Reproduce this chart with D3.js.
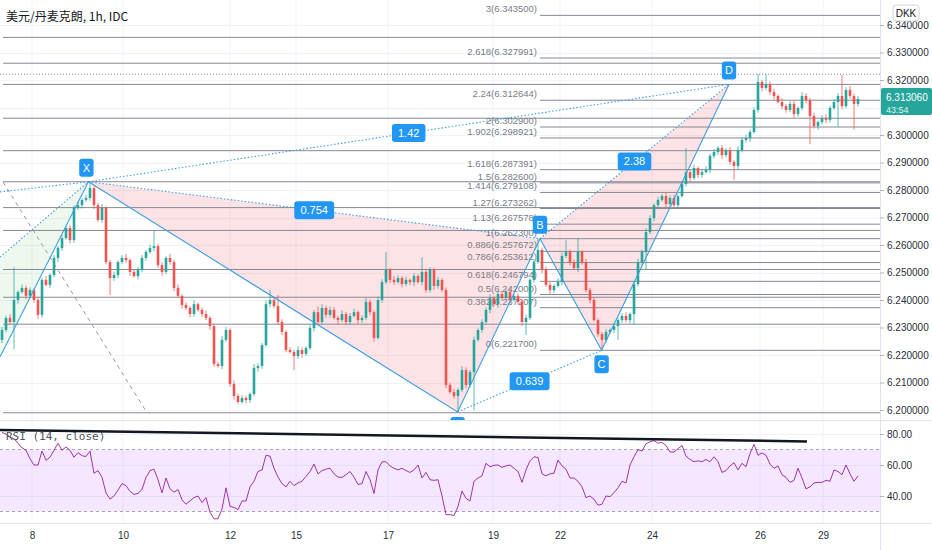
<!DOCTYPE html>
<html><head><meta charset="utf-8">
<script src="https://cdn.jsdelivr.net/npm/d3@7"></script>
<style>
body{margin:0;background:#fff;}
svg{display:block;font-family:"Liberation Sans",Arial,sans-serif;}
</style>
</head><body>
<svg id="chart" width="932" height="550"></svg>
<script>
// ---------------- DATA ----------------
const title = "美元/丹麦克朗, 1h, IDC";
const firstOpen = 6.2255;
const closes = [
6.2291,6.2335,6.2320,6.2400,6.2429,6.2444,6.2415,6.2436,6.2400,6.2346,
6.2473,6.2455,6.2491,6.2553,6.2589,6.2625,6.2662,6.2618,6.2735,6.2745,
6.2764,6.2771,6.2807,6.2745,6.2691,6.2735,6.2538,6.2480,6.2491,6.2538,
6.2553,6.2545,6.2502,6.2487,6.2509,6.2553,6.2575,6.2589,6.2596,6.2527,
6.2502,6.2553,6.2538,6.2444,6.2415,6.2382,6.2371,6.2349,6.2385,6.2364,
6.2349,6.2335,6.2305,6.2167,6.2160,6.2255,6.2291,6.2095,6.2051,6.2029,
6.2044,6.2036,6.2058,6.2153,6.2160,6.2236,6.2385,6.2400,6.2378,6.2320,
6.2284,6.2218,6.2211,6.2196,6.2218,6.2204,6.2225,6.2298,6.2356,6.2320,
6.2371,6.2346,6.2364,6.2335,6.2327,6.2349,6.2320,6.2342,6.2356,6.2327,
6.2335,6.2393,6.2356,6.2262,6.2400,6.2465,6.2509,6.2473,6.2465,6.2480,
6.2458,6.2473,6.2465,6.2487,6.2465,6.2502,6.2436,6.2509,6.2451,6.2473,
6.2436,6.2091,6.2065,6.2051,6.2073,6.2145,6.2091,6.2138,6.2255,6.2291,
6.2320,6.2364,6.2407,6.2385,6.2422,6.2407,6.2429,6.2400,6.2415,6.2393,
6.2320,6.2335,6.2473,6.2538,6.2582,6.2509,6.2455,6.2436,6.2451,6.2465,
6.2560,6.2575,6.2538,6.2516,6.2575,6.2538,6.2436,6.2400,6.2327,6.2276,
6.2255,6.2284,6.2291,6.2305,6.2327,6.2342,6.2327,6.2349,6.2458,6.2538,
6.2575,6.2647,6.2698,6.2745,6.2764,6.2778,6.2749,6.2771,6.2745,6.2778,
6.2822,6.2865,6.2844,6.2880,6.2855,6.2865,6.2873,6.2924,6.2938,6.2953,
6.2927,6.2945,6.2902,6.2887,6.2945,6.2982,6.2989,6.3011,6.3091,6.3193,
6.3171,6.3185,6.3156,6.3142,6.3120,6.3105,6.3091,6.3113,6.3076,6.3098,
6.3142,6.3127,6.3069,6.3033,6.3047,6.3062,6.3055,6.3098,6.3120,6.3142,
6.3105,6.3164,6.3142,6.3113,6.31306];
// wick lengths beyond the body, in pips (0.0001)
const wickUp = [
10,8,14,120,6,12,8,10,6,12,
8,14,6,10,8,12,6,10,8,14,
6,12,23,10,8,14,6,8,12,6,
10,14,6,8,12,10,6,12,59,8,
10,6,14,8,12,6,10,8,14,6,
8,12,6,10,8,14,10,6,12,8,
10,8,6,14,10,8,14,36,12,40,
10,6,12,8,14,10,6,12,8,20,
14,8,12,10,6,14,8,10,12,6,
10,14,8,6,12,10,66,8,14,10,
8,12,6,10,8,54,10,10,8,12,
6,10,8,12,6,14,10,8,12,6,
10,8,14,6,12,10,8,14,6,10,
8,12,6,10,41,8,12,10,6,14,
12,43,8,10,50,6,12,8,10,6,
8,10,6,12,8,10,14,6,10,12,
8,14,10,6,12,8,14,10,12,8,
10,88,8,12,6,10,14,8,12,6,
10,8,12,6,14,10,12,8,10,29,
8,37,10,12,6,14,8,10,12,6,
14,10,8,12,6,10,14,8,12,10,
76,10,14,8,12];
const wickDn = [
12,8,10,100,14,6,12,8,10,14,
10,6,12,8,14,10,6,12,10,8,
12,8,10,14,6,10,8,62,10,12,
8,10,14,6,12,8,10,6,12,10,
14,8,10,12,6,14,8,12,10,6,
12,8,14,10,6,12,8,10,14,8,
6,12,10,8,14,10,6,12,8,10,
12,8,6,51,10,14,8,6,12,10,
8,12,10,6,14,8,12,10,6,14,
10,8,12,14,6,10,8,12,10,6,
12,8,10,14,6,12,10,8,14,10,
8,12,6,10,58,8,12,10,138,6,
10,8,12,6,14,10,8,12,6,10,
14,47,8,10,6,12,8,14,10,6,
10,8,12,6,14,10,8,12,6,10,
38,10,8,12,50,10,8,12,40,8,
10,66,8,12,10,6,14,10,8,12,
6,10,14,8,12,10,6,12,8,10,
14,8,10,51,12,8,10,14,6,10,
12,8,10,14,6,12,10,8,14,10,
8,12,102,10,14,8,12,10,6,90,
12,8,10,93,10];
const rsi = [
81,80,78,77,74,71,69.5,64,60,60,
69,63,65,69.5,74,69.5,71.6,69.5,65,68,
66,65.5,69,54.7,56.4,52,42,38,40,43.8,
48,46.7,43,41,41.7,44.2,52,56.4,57.3,50.5,
42,51.6,44.6,42.5,44.2,37.5,34.7,36.8,39,40,
35.8,39,29.5,25.3,25.3,31.6,45.3,33.3,32.6,31.2,
36.8,36.8,45.9,49.5,55.8,56.8,66.3,65.7,57.9,52.2,
48,45.9,49.5,46.7,48.4,49.5,52.6,55.8,60.6,54.3,
56.4,57.3,57.9,54.3,52.2,52,53.7,55.8,52.2,47.4,
48,55.8,50.5,41.7,56.8,62.1,62.1,59.4,57.9,56.8,
57.9,56.4,55.2,56.8,60,51.6,55.2,50.5,50.1,50.5,
40,27.9,28,27.4,33.3,43.2,38.4,36.8,49.5,51.6,
53,61.1,58.9,59.8,60,58.5,59.4,60,57.9,55.8,
48.8,56.8,62.7,65.3,64.8,54.3,53,54.3,54.7,63.2,
59.4,57.3,51.6,51.6,49.5,45.9,39,40,37.9,34.1,
34.7,40,39.6,42.1,45.3,49.5,48.4,60,65.3,69.9,
69,73.7,74.9,75.8,74.1,74.5,72.6,68.4,68.4,70.5,
72.6,65.7,63.6,62.1,62.7,62.1,63.6,62.1,65.3,62.1,
55.2,56.4,59.4,61.5,56.8,61.1,58.9,67.4,73.3,66.3,
67.8,66.3,60.6,57.9,59.4,53.7,52,48.8,50.1,57.9,
51.6,44.6,45.9,48.4,48.8,48.8,50.1,49.5,56.8,55.8,
53.7,60,54.3,49.5,53];
const dayLabels = ["8","10","12","15","17","19","22","24","26","29"];
const dayTickBars = [7.5,30.25,57,73.5,96.5,122.75,139.5,162.5,189.5,205.25];
const gridPrices = [6.20,6.21,6.22,6.23,6.24,6.25,6.26,6.27,6.28,6.29,6.30,6.31,6.32,6.33,6.34];
// 6.310000 is hidden behind the last-price label in the picture
const priceTicks = [6.20,6.21,6.22,6.23,6.24,6.25,6.26,6.27,6.28,6.29,6.30,6.32,6.33,6.34];
const rsiTicks = [40,60,80];
const fibRatios = ["3","2.618","2.24","2","1.902","1.618","1.5","1.414","1.27","1.13","1","0.886","0.786","0.618","0.5","0.382","0"];
const fibPrices = [6.343500,6.327991,6.312644,6.302900,6.298921,6.287391,6.282600,6.279108,6.273262,6.267578,6.262300,6.257672,6.253612,6.246794,6.242000,6.237207,6.221700];
const hLevels = [6.3355,6.3261,6.3184,6.3061,6.2943,6.2830,6.2736,6.2653,6.2511,6.2410,6.2312,6.1990];
const dLevel = 6.3221;
const patNames = ["X","A","B","C","D"];
const patBars = [21.6,113.9,134.5,149.9,181.75];
const patPrices = [6.2830,6.1993,6.2623,6.2217,6.3184];
const ratioLabels = ["0.754","1.42","0.639","2.38"];   // X-B, X-D, A-C, B-D
const prevSolid = [[-0.5,6.2193],[21.6,6.2830]];
const prevDot1 = [[-0.5,6.2556],[21.6,6.2830]];
const prevDot2 = [[-0.5,6.2793],[21.6,6.2830]];
const grayDash = [[0.25,6.2829],[36.25,6.1990]];
const rsiTrend = [[-0.5,82.6],[201.25,75.2]];
const lastPrice = "6.313060", countdown = "43:54";

// ---------------- LAYOUT ----------------
const W = 932, H = 550, plotR = 880;
const paneTop = 0, paneBot = 420, rsiTop = 421, rsiBot = 523;
const svg = d3.select("#chart");
const x = d3.scaleLinear().domain([0, closes.length - 1]).range([2, 858]);
const y = d3.scaleLinear().domain([6.20, 6.32]).range([410, 80]);
const yr = d3.scaleLinear().domain([40, 80]).range([496, 434]);

const defs = svg.append("defs");
defs.append("clipPath").attr("id","pc").append("rect").attr("x",0).attr("y",paneTop).attr("width",plotR).attr("height",paneBot-paneTop);
defs.append("clipPath").attr("id","rc").append("rect").attr("x",0).attr("y",rsiTop).attr("width",plotR).attr("height",rsiBot-rsiTop);

svg.append("rect").attr("width",W).attr("height",H).attr("fill","#fff");

// grid
const grid = svg.append("g");
grid.selectAll("line.v").data(dayTickBars).join("line")
  .attr("x1",d=>x(d)).attr("x2",d=>x(d)).attr("y1",0).attr("y2",rsiBot)
  .attr("stroke","#f0f3fa").attr("stroke-width",1);
grid.selectAll("line.h").data(gridPrices).join("line")
  .attr("x1",0).attr("x2",plotR).attr("y1",d=>Math.round(y(d))+0.5).attr("y2",d=>Math.round(y(d))+0.5)
  .attr("stroke","#f0f3fa");
grid.selectAll("line.hr").data(rsiTicks).join("line")
  .attr("x1",0).attr("x2",plotR).attr("y1",d=>Math.round(yr(d))+0.5).attr("y2",d=>Math.round(yr(d))+0.5)
  .attr("stroke","#f0f3fa");

// ---------------- PRICE PANE ----------------
const pp = svg.append("g").attr("clip-path","url(#pc)");
const P = (bar, price) => [x(bar), y(price)];
const pts = patBars.map((b,i)=>P(b, patPrices[i]));

// fills
pp.append("path").attr("d", d3.line()([P(...prevDot1[0]), pts[0], P(...prevSolid[0])]))
  .attr("fill","rgba(76,175,80,0.09)");
pp.append("path").attr("d", d3.line()([pts[0],pts[1],pts[2]])+"Z").attr("fill","rgba(242,54,69,0.14)");
pp.append("path").attr("d", d3.line()([pts[2],pts[3],pts[4]])+"Z").attr("fill","rgba(242,54,69,0.14)");

// full-width levels
pp.selectAll("line.hl").data(hLevels).join("line")
  .attr("x1",3).attr("x2",plotR).attr("y1",d=>y(d)).attr("y2",d=>y(d))
  .attr("stroke","#868993").attr("stroke-width",1);
pp.append("line").attr("x1",0).attr("x2",plotR).attr("y1",y(dLevel)).attr("y2",y(dLevel))
  .attr("stroke","#868993").attr("stroke-dasharray","1,2");

// fib lines
const fibX0 = pts[2][0];
pp.selectAll("line.fib").data(fibPrices).join("line")
  .attr("x1",fibX0).attr("x2",plotR).attr("y1",d=>y(d)).attr("y2",d=>y(d))
  .attr("stroke","#868993").attr("stroke-width",1);
pp.selectAll("text.fib").data(fibPrices).join("text")
  .attr("x",fibX0-3).attr("y",d=>y(d)-3).attr("text-anchor","end")
  .attr("font-size",9.5).attr("fill","#787b86")
  .text((d,i)=>fibRatios[i]+"("+d.toFixed(6)+")");

// gray dashed
pp.append("path").attr("d",d3.line()(grayDash.map(p=>P(...p))))
  .attr("stroke","#9598a1").attr("stroke-dasharray","4,4").attr("fill","none");

// candles
const candles = closes.map((c,i)=>{
  const o = i===0 ? firstOpen : closes[i-1];
  return {i, o, c, h: Math.max(o,c)+wickUp[i]*1e-4, l: Math.min(o,c)-wickDn[i]*1e-4};
});
const cg = pp.append("g");
cg.selectAll("line").data(candles).join("line")
  .attr("x1",d=>x(d.i)).attr("x2",d=>x(d.i)).attr("y1",d=>y(d.h)).attr("y2",d=>y(d.l))
  .attr("stroke",d=>d.c>=d.o?"#26a69a":"#ef5350").attr("stroke-width",1).attr("opacity",0.75);
cg.selectAll("rect").data(candles).join("rect")
  .attr("x",d=>x(d.i)-1.3).attr("width",2.6)
  .attr("y",d=>y(Math.max(d.o,d.c))).attr("height",d=>Math.max(1,Math.abs(y(d.o)-y(d.c))))
  .attr("fill",d=>d.c>=d.o?"#26a69a":"#ef5350");

// pattern lines
const blue = "#3d9fe0";
pp.append("path").attr("d",d3.line()(pts)).attr("stroke",blue).attr("stroke-width",1.1).attr("fill","none");
pp.append("path").attr("d",d3.line()(prevSolid.map(p=>P(...p)))).attr("stroke",blue).attr("stroke-width",1.1).attr("fill","none");
const dotted = [[pts[0],pts[2]],[pts[0],pts[4]],[pts[1],pts[3]],[pts[2],pts[4]],
  [P(...prevDot1[0]),pts[0]],[P(...prevDot2[0]),pts[0]]];
pp.selectAll("path.dot").data(dotted).join("path").attr("d",d=>d3.line()(d))
  .attr("stroke",blue).attr("stroke-width",1.1).attr("stroke-dasharray","1.5,2").attr("fill","none");

function badge(g, cx, cy, txt, fs){
  const w = txt.length*fs*0.58 + 8, h = fs + 7;
  g.append("rect").attr("x",cx-w/2).attr("y",cy-h/2).attr("width",w).attr("height",h).attr("rx",3).attr("fill","#2196f3");
  g.append("text").attr("x",cx).attr("y",cy+fs*0.36).attr("text-anchor","middle").attr("font-size",fs).attr("fill","#fff").text(txt);
}
const mids = [[pts[0],pts[2]],[pts[0],pts[4]],[pts[1],pts[3]],[pts[2],pts[4]]];
mids.forEach((m,i)=>badge(pp,(m[0][0]+m[1][0])/2,(m[0][1]+m[1][1])/2,ratioLabels[i],11));
// point labels
const labOff = [-14,14,-14,14,-14];
pts.forEach((p,i)=>{
  const lx = p[0] + (i===0?-2:0);
  badge(pp, lx, p[1]+labOff[i], patNames[i], 11);
});

// ---------------- RSI PANE ----------------
const rp = svg.append("g").attr("clip-path","url(#rc)");
rp.append("rect").attr("x",0).attr("width",plotR).attr("y",yr(70)).attr("height",yr(30)-yr(70)).attr("fill","rgba(153,21,255,0.1)");
[70,30].forEach(v=>rp.append("line").attr("x1",0).attr("x2",plotR).attr("y1",yr(v)).attr("y2",yr(v))
  .attr("stroke","#a3a6af").attr("stroke-dasharray","3,3"));
rp.append("path").datum(rsi).attr("d",d3.line().x((d,i)=>x(i)).y(d=>yr(d)))
  .attr("fill","none").attr("stroke","#8e1599").attr("stroke-width",1).attr("opacity",0.85);
rp.append("text").attr("x",6).attr("y",440).attr("font-size",11).attr("fill","#50535e")
  .attr("font-family","DejaVu Sans Mono, monospace").text("RSI (14, close)");
rp.append("path").attr("d",d3.line()(rsiTrend.map(p=>[x(p[0]),yr(p[1])])))
  .attr("stroke","#131722").attr("stroke-width",2.5).attr("fill","none");

// ---------------- FRAME & AXES ----------------
svg.append("line").attr("x1",0).attr("x2",W).attr("y1",paneBot+0.5).attr("y2",paneBot+0.5).attr("stroke","#e0e3eb");
svg.append("line").attr("x1",0).attr("x2",W).attr("y1",rsiBot+0.5).attr("y2",rsiBot+0.5).attr("stroke","#e0e3eb");
svg.append("line").attr("x1",plotR+0.5).attr("x2",plotR+0.5).attr("y1",0).attr("y2",H).attr("stroke","#e0e3eb");

const axisFont = "Liberation Sans, Arial, sans-serif";
const yAxis = svg.append("g").attr("transform",`translate(${plotR},0)`)
  .call(d3.axisRight(y).tickValues(priceTicks).tickFormat(d3.format(".6f")).tickSize(4));
const rAxis = svg.append("g").attr("transform",`translate(${plotR},0)`)
  .call(d3.axisRight(yr).tickValues(rsiTicks).tickFormat(d3.format(".2f")).tickSize(4));
const xAxis = svg.append("g").attr("transform",`translate(0,${rsiBot})`)
  .call(d3.axisBottom(x).tickValues(dayTickBars).tickFormat((d,i)=>dayLabels[i]).tickSize(0));
[yAxis,rAxis,xAxis].forEach(a=>{
  a.select(".domain").remove();
  a.selectAll("line").attr("stroke","#b2b5be");
  a.selectAll("text").attr("font-size",10).attr("fill","#2a2e39").attr("font-family",axisFont);
});
yAxis.selectAll("text").attr("x",7);
rAxis.selectAll("text").attr("x",7);
xAxis.selectAll("text").attr("dy","1.25em");

// title
svg.append("text").attr("x",6).attr("y",21).attr("font-size",12).attr("fill","#131722")
  .attr("font-family","'Noto Sans CJK SC', 'Liberation Sans', sans-serif").text(title);

// DKK badge
svg.append("rect").attr("x",893).attr("y",5).attr("width",26).attr("height",16).attr("rx",3)
  .attr("fill","#fff").attr("stroke","#d1d4dc");
svg.append("text").attr("x",906).attr("y",17).attr("text-anchor","middle").attr("font-size",10).attr("fill","#131722").text("DKK");

// last price label
const ly = y(+lastPrice);
svg.append("rect").attr("x",plotR+1).attr("y",ly-11).attr("width",W-plotR-1).attr("height",27).attr("rx",2).attr("fill","#26a69a");
svg.append("text").attr("x",plotR+6).attr("y",ly+2).attr("font-size",10).attr("fill","#fff").text(lastPrice);
svg.append("text").attr("x",plotR+6).attr("y",ly+13.5).attr("font-size",9).attr("fill","#e0f2f1").text(countdown);
</script>
</body></html>
